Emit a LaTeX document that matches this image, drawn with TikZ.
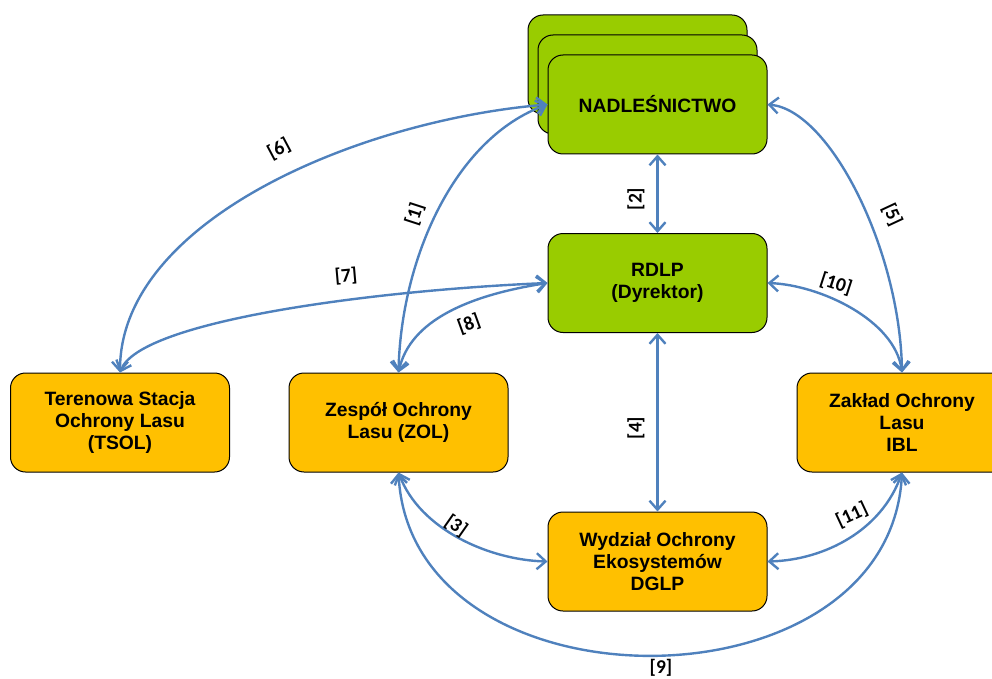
\documentclass[tikz,border=0pt]{standalone}
\usepackage{fontspec}
\setmainfont{Liberation Sans}
\newfontfamily\lblfont{Carlito}
\usetikzlibrary{arrows.meta}
\definecolor{nadgreen}{HTML}{99CC00}
\definecolor{boxorange}{HTML}{FFC000}
\definecolor{linkblue}{HTML}{4F81BD}
\tikzset{
  x=1pt, y=1pt,
  gbox/.style={draw=black, line width=1pt, fill=nadgreen, rounded corners=15pt,
    minimum width=219pt, minimum height=99pt, inner sep=0pt, align=center,
    font=\fontsize{19.3}{22}\selectfont\bfseries},
  obox/.style={gbox, fill=boxorange},
  link/.style={draw=linkblue, line width=2.4pt,
    {Straight Barb[length=9pt,width=16pt]}-{Straight Barb[length=9pt,width=16pt]}},
  lbl/.style={font=\lblfont\fontsize{19.5}{21}\selectfont\bfseries, inner sep=0pt}
}
\begin{document}
\begin{tikzpicture}
\useasboundingbox (0,0) rectangle (992,-679);
% nodes
\node[gbox] (nb1) at (637.5,-64.5) {};
\node[gbox] (nb2) at (647.5,-84.5) {};
\node[gbox] (nad) at (657.5,-104.5) {NADLEŚNICTWO};
\node[gbox] (rdlp) at (657.5,-283) {RDLP\\(Dyrektor)};
\node[obox] (tsol) at (120,-422.5) {Terenowa Stacja\\Ochrony Lasu\\(TSOL)};
\node[obox] (zol) at (398.5,-422.5) {Zespół Ochrony\\Lasu (ZOL)};
\node[obox, minimum width=210pt] (ibl) at (902,-422.5) {Zakład Ochrony\\Lasu\\IBL};
\node[obox] (dglp) at (657.5,-561.5) {Wydział Ochrony\\Ekosystemów\\DGLP};
% connectors
\draw[link] (tsol.north) .. controls (120,-220) and (360,-120) .. (nad.west);
\draw[link] (tsol.north) .. controls (140,-320) and (380,-290) .. (rdlp.west);
\draw[link] (zol.north) .. controls (401,-260) and (454,-138) .. (nad.west);
\draw[link] (zol.north) .. controls (410,-320) and (470,-295) .. (rdlp.west);
\draw[link] (nad.south) -- (rdlp.north);
\draw[link] (rdlp.south) -- (dglp.north);
\draw[link] (ibl.north) .. controls (900,-250) and (830,-110) .. (nad.east);
\draw[link] (rdlp.east) .. controls (820,-285) and (895,-320) .. (ibl.north);
\draw[link] (zol.south) .. controls (420,-530) and (490,-560) .. (dglp.west);
\draw[link] (ibl.south) .. controls (882,-530) and (825,-560) .. (dglp.east);
\draw[link] (zol.south) .. controls (410,-716) and (890,-716) .. (ibl.south);
% labels
\node[lbl, rotate=28] (l6) at (279,-149) {[6]};
\node[lbl, rotate=72] (l1) at (415,-214) {[1]};
\node[lbl, rotate=5] (l7) at (346,-276) {[7]};
\node[lbl, rotate=20] (l8) at (469,-324) {[8]};
\node[lbl, rotate=90] (l2) at (636,-199) {[2]};
\node[lbl, rotate=90] (l4) at (636,-428) {[4]};
\node[lbl, rotate=-65] (l5) at (892,-215) {[5]};
\node[lbl, rotate=-18] (l10) at (836,-284) {[10]};
\node[lbl, rotate=-35] (l3) at (456,-526) {[3]};
\node[lbl, rotate=25] (l11) at (852,-515) {[11]};
\node[lbl] (l9) at (661,-668) {[9]};
\end{tikzpicture}
\end{document}
